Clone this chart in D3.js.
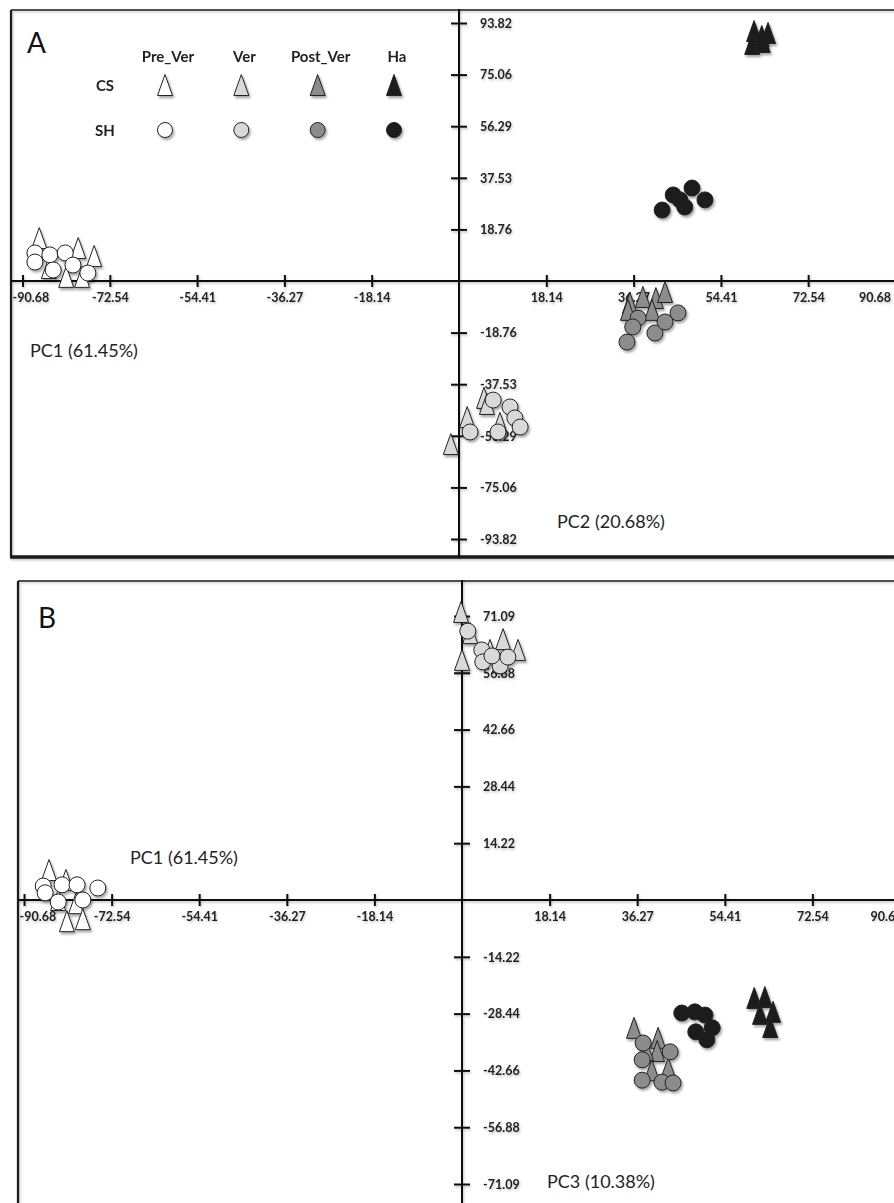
<!DOCTYPE html>
<html><head><meta charset="utf-8">
<script src="https://cdn.jsdelivr.net/npm/d3@7"></script>
<style>body{margin:0;background:#fff}svg{display:block}</style>
</head><body>
<svg id="chart" width="894" height="1203"></svg>
<script>
// ---------- data ----------
const stages = ["Pre_Ver", "Ver", "Post_Ver", "Ha"];
const cultivars = ["CS", "SH"];
const stageFill = ["#ffffff", "#d9d9d9", "#8c8c8c", "#1b1b1b"];

const ticksPC1 = [-90.68, -72.54, -54.41, -36.27, -18.14, 18.14, 36.27, 54.41, 72.54, 90.68];
const ticksPC2 = [93.82, 75.06, 56.29, 37.53, 18.76, -18.76, -37.53, -56.29, -75.06, -93.82];
const ticksPC3 = [71.09, 56.88, 42.66, 28.44, 14.22, -14.22, -28.44, -42.66, -56.88, -71.09];
const axisTitles = ["PC1 (61.45%)", "PC2 (20.68%)", "PC3 (10.38%)"];
const panelLetters = ["A", "B"];

// Panel A: [PC1, PC2]
const csPreVerA = [[-87.2, 15.6], [-79.1, 12.0], [-75.8, 9.1], [-85.2, 4.7], [-81.6, 1.5], [-78.3, 1.5]];
const shPreVerA = [[-88.1, 10.2], [-88.1, 6.9], [-85.0, 9.5], [-81.8, 10.2], [-84.3, 4.0], [-80.2, 5.8], [-77.1, 2.9]];
const csVerA = [[5.2, -42.5], [5.8, -44.7], [1.7, -49.5], [8.5, -51.6], [-1.7, -59.3]];
const shVerA = [[7.1, -43.3], [10.6, -45.8], [11.6, -49.8], [12.7, -53.1], [2.3, -54.9], [8.1, -54.9]];
const csPostVerA = [[35.5, -8.0], [38.2, -5.8], [40.9, -6.2], [42.8, -4.0], [40.1, -10.5], [35.1, -10.5]];
const shPostVerA = [[37.2, -13.5], [36.1, -16.7], [34.9, -22.2], [40.7, -18.9], [42.8, -14.9], [45.5, -11.6]];
const csHaA = [[61.3, 90.9], [60.9, 86.2], [62.9, 89.1], [64.2, 90.2], [63.1, 86.9]];
const shHaA = [[42.2, 25.8], [44.5, 31.3], [48.4, 33.8], [46.9, 26.9], [51.1, 29.5], [45.9, 29.5]];

// Panel B: [PC1, PC3]
const csPreVerB = [[-85.5, 7.5], [-82.0, 5.0], [-83.6, 0.0], [-79.9, -0.8], [-81.8, -5.3], [-78.5, -4.8]];
const shPreVerB = [[-86.7, 3.5], [-86.3, 1.8], [-82.8, 3.8], [-79.7, 3.8], [-75.4, 3.0], [-83.6, -0.5], [-78.5, 0.0]];
const csVerB = [[-0.2, 72.1], [1.7, 66.8], [8.5, 65.3], [11.6, 62.6], [0.0, 60.1], [5.8, 62.6]];
const shVerB = [[1.2, 67.3], [4.1, 62.6], [4.3, 59.6], [7.9, 58.6], [6.2, 61.1], [9.5, 60.8]];
const csPostVerB = [[35.6, -32.0], [40.6, -34.5], [40.4, -37.8], [39.3, -42.6], [42.7, -42.1], [38.1, -37.5]];
const shPostVerB = [[37.5, -35.8], [37.3, -40.0], [43.1, -38.0], [37.3, -45.1], [41.4, -45.6], [43.7, -45.8]];
const csHaB = [[60.5, -24.5], [62.7, -24.3], [64.4, -28.0], [61.7, -28.5], [63.8, -31.8]];
const shHaB = [[45.5, -28.3], [48.2, -28.0], [50.3, -28.8], [51.8, -32.0], [48.4, -33.0], [50.7, -35.0]];

// ---------- drawing ----------
const svg = d3.select("#chart");
const FONT = "Lato, 'Open Sans', sans-serif";
const defs = svg.append("defs");
defs.append("filter").attr("id", "shadow").attr("x", "-40%").attr("y", "-40%").attr("width", "180%").attr("height", "180%")
  .append("feDropShadow").attr("dx", 1.5).attr("dy", 2.2).attr("stdDeviation", 1.3)
  .attr("flood-color", "#000").attr("flood-opacity", 0.35);
defs.append("filter").attr("id", "lshadow").attr("x", "-10%").attr("y", "-10%").attr("width", "120%").attr("height", "120%")
  .append("feDropShadow").attr("dx", 1).attr("dy", 1.5).attr("stdDeviation", 1)
  .attr("flood-color", "#000").attr("flood-opacity", 0.25);

svg.append("rect").attr("width", 894).attr("height", 1203).attr("fill", "#fff");

const TW = 15, TH = 21;
const triPath = (w, h) => `M0,${-h / 2}L${w / 2},${h / 2}L${-w / 2},${h / 2}Z`;
const fmt = d => d.toFixed(2);

function panel(cfg) {
  const g = svg.append("g");
  const x = d3.scaleLinear().domain([-90.68, 90.68]).range(cfg.xr);
  const y = d3.scaleLinear().domain(cfg.yd).range(cfg.yr);
  const x0 = x(0), y0 = y(0);

  // frame
  const fr = g.append("g").attr("filter", "url(#lshadow)").attr("stroke", "#1a1a1a").attr("fill", "none");
  fr.append("line").attr("x1", cfg.frame.left).attr("x2", 894).attr("y1", cfg.frame.top).attr("y2", cfg.frame.top).attr("stroke-width", 1.6);
  fr.append("line").attr("x1", cfg.frame.left).attr("x2", cfg.frame.left).attr("y1", cfg.frame.top).attr("y2", cfg.frame.bottom).attr("stroke-width", 2.2);
  if (cfg.frame.bottom < 1203)
    fr.append("line").attr("x1", cfg.frame.left - 1).attr("x2", 894).attr("y1", cfg.frame.bottom).attr("y2", cfg.frame.bottom).attr("stroke-width", 3.5);

  // axes
  const ax = g.append("g").attr("filter", "url(#lshadow)");
  ax.append("line").attr("x1", cfg.frame.left).attr("x2", 894).attr("y1", y0).attr("y2", y0).attr("stroke", "#111").attr("stroke-width", 2);
  ax.append("line").attr("x1", x0).attr("x2", x0).attr("y1", cfg.frame.top - 1).attr("y2", cfg.frame.bottom).attr("stroke", "#111").attr("stroke-width", 2);

  const xa = ax.append("g").attr("transform", `translate(0,${y0})`)
    .call(d3.axisBottom(x).tickValues(ticksPC1).tickSizeOuter(0).tickSizeInner(6).tickFormat(fmt));
  xa.select(".domain").remove();
  xa.selectAll(".tick line").attr("y1", -6).attr("y2", 6).attr("stroke", "#111").attr("stroke-width", 2);
  xa.selectAll(".tick text").attr("y", 21).attr("dy", null)
    .attr("font-family", FONT).attr("font-weight", 700).attr("font-size", 12.5).attr("fill", "#222")
    .attr("text-anchor", (d, i) => i === 0 ? "start" : "middle")
    .attr("x", (d, i) => i === 0 ? cfg.frame.left + 1 - x(d) : (i === ticksPC1.length - 1 ? cfg.lastDx : 0));

  const ya = ax.append("g").attr("transform", `translate(${x0},0)`)
    .call(d3.axisRight(y).tickValues(cfg.yTicks).tickSizeOuter(0).tickSizeInner(8).tickFormat(fmt));
  ya.select(".domain").remove();
  ya.selectAll(".tick line").attr("x1", -8).attr("x2", 8).attr("stroke", "#111").attr("stroke-width", 2);
  ya.selectAll(".tick text").attr("x", 21).attr("dy", "0.35em")
    .attr("font-family", FONT).attr("font-weight", 700).attr("font-size", 12.5).attr("fill", "#222")
    .attr("text-anchor", "start");

  // titles
  g.append("text").attr("x", cfg.letter[0]).attr("y", cfg.letter[1]).text(cfg.letterText)
    .attr("font-family", FONT).attr("font-size", 28).attr("fill", "#111");
  cfg.titles.forEach(t => g.append("text").attr("x", t[0]).attr("y", t[1]).text(t[2])
    .attr("font-family", FONT).attr("font-size", 18).attr("fill", "#222"));

  // markers
  const mk = g.append("g").attr("filter", "url(#shadow)");
  cfg.series.forEach(s => {
    const fill = stageFill[stages.indexOf(s.stage)];
    if (s.cult === "CS") {
      mk.append("g").selectAll("path").data(s.data).join("path")
        .attr("d", triPath(TW, TH))
        .attr("transform", d => `translate(${x(d[0])},${y(d[1])})`)
        .attr("fill", fill).attr("stroke", "#222").attr("stroke-width", 1);
    }
  });
  cfg.series.forEach(s => {
    const fill = stageFill[stages.indexOf(s.stage)];
    if (s.cult === "SH") {
      mk.append("g").selectAll("circle").data(s.data).join("circle")
        .attr("cx", d => x(d[0])).attr("cy", d => y(d[1])).attr("r", 8)
        .attr("fill", fill).attr("stroke", "#222").attr("stroke-width", 1);
    }
  });
  return g;
}

const gA = panel({
  xr: [22.5, 895.5], yd: [-93.82, 93.82], yr: [539, 23], yTicks: ticksPC2,
  frame: { left: 11, top: 10, bottom: 557 }, lastDx: -21,
  letter: [27, 53], letterText: panelLetters[0],
  titles: [[30, 357, axisTitles[0]], [557, 528, axisTitles[1]]],
  series: [
    { cult: "CS", stage: "Pre_Ver", data: csPreVerA }, { cult: "CS", stage: "Ver", data: csVerA },
    { cult: "CS", stage: "Post_Ver", data: csPostVerA }, { cult: "CS", stage: "Ha", data: csHaA },
    { cult: "SH", stage: "Pre_Ver", data: shPreVerA }, { cult: "SH", stage: "Ver", data: shVerA },
    { cult: "SH", stage: "Post_Ver", data: shPostVerA }, { cult: "SH", stage: "Ha", data: shHaA }
  ]
});

const gB = panel({
  xr: [24, 900], yd: [-71.09, 71.09], yr: [1184, 616], yTicks: ticksPC3,
  frame: { left: 18, top: 581, bottom: 1203 }, lastDx: -14,
  letter: [38, 628], letterText: panelLetters[1],
  titles: [[130, 864, axisTitles[0]], [547, 1188, axisTitles[2]]],
  series: [
    { cult: "CS", stage: "Pre_Ver", data: csPreVerB }, { cult: "CS", stage: "Ver", data: csVerB },
    { cult: "CS", stage: "Post_Ver", data: csPostVerB }, { cult: "CS", stage: "Ha", data: csHaB },
    { cult: "SH", stage: "Pre_Ver", data: shPreVerB }, { cult: "SH", stage: "Ver", data: shVerB },
    { cult: "SH", stage: "Post_Ver", data: shPostVerB }, { cult: "SH", stage: "Ha", data: shHaB }
  ]
});

// legend (panel A)
const lx = d3.scalePoint().domain(stages).range([165, 394]);
const ly = d3.scalePoint().domain(cultivars).range([85, 130]);
const lg = svg.append("g");
lg.selectAll("text.h").data(stages).join("text").attr("class", "h")
  .attr("x", d => lx(d) + 3).attr("y", 62).attr("text-anchor", "middle").text(d => d)
  .attr("font-family", FONT).attr("font-weight", 700).attr("font-size", 15).attr("fill", "#222");
lg.selectAll("text.r").data(cultivars).join("text").attr("class", "r")
  .attr("x", 105).attr("y", d => ly(d) + 6).attr("text-anchor", "middle").text(d => d)
  .attr("font-family", FONT).attr("font-weight", 700).attr("font-size", 15).attr("fill", "#222");
const lm = lg.append("g").attr("filter", "url(#shadow)");
lm.selectAll("path").data(stages).join("path")
  .attr("d", triPath(TW, TH)).attr("transform", d => `translate(${lx(d)},${ly("CS")})`)
  .attr("fill", (d, i) => stageFill[i]).attr("stroke", "#222").attr("stroke-width", 1);
lm.selectAll("circle").data(stages).join("circle")
  .attr("cx", d => lx(d)).attr("cy", ly("SH")).attr("r", 7.5)
  .attr("fill", (d, i) => stageFill[i]).attr("stroke", "#222").attr("stroke-width", 1);
</script>
</body></html>
